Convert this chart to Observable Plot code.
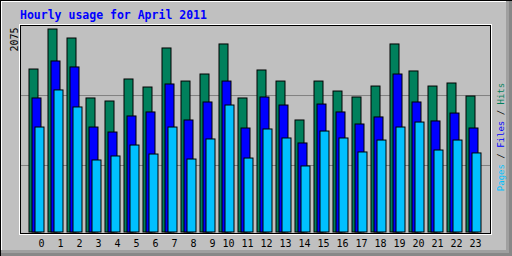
<!DOCTYPE html>
<html>
<head>
<meta charset="utf-8">
<script src="https://cdn.jsdelivr.net/npm/d3@7"></script>
<script src="https://cdn.jsdelivr.net/npm/@observablehq/plot@0.6"></script>
<style>
  html, body { margin: 0; padding: 0; background: #C0C0C0; overflow: hidden; }
</style>
</head>
<body>
<div id="chart"></div>
<script>
const title = "Hourly usage for April 2011";
const hours = [0,1,2,3,4,5,6,7,8,9,10,11,12,13,14,15,16,17,18,19,20,21,22,23];
const hits  = [1666,2075,1983,1370,1339,1564,1482,1881,1543,1615,1922,1370,1656,1543,1145,1543,1441,1380,1492,1922,1646,1492,1523,1390];
const files = [1370,1748,1687,1073,1022,1186,1227,1513,1145,1329,1543,1063,1380,1298,910,1308,1227,1104,1176,1615,1329,1135,1216,1063];
const pages = [1073,1452,1278,736,777,889,797,1073,746,951,1298,756,1053,961,675,1032,961,818,940,1073,1124,838,940,808];
const maxLabel = [2075];
const gridValues = [685, 1400];
const legendParts = [["Pages", "#00C0FF"], [" / ", "#000000"], ["Files", "#0000FF"], [" / ", "#000000"], ["Hits", "#00805C"]];

const colors = {hits: "#00805C", files: "#0000FF", pages: "#00C0FF"};
const rows = hours.map((h, i) => ({hour: h, hits: hits[i], files: files[i], pages: pages[i]}));

const slot = 19;        // px per hour slot
const barW = 9 / slot;  // bar width in hour units
const step = 3 / slot;  // offset between series
const mono = "'DejaVu Sans Mono', 'Liberation Mono', monospace";

function bars(key, k) {
  return Plot.rectY(rows, {
    x1: d => d.hour + k * step,
    x2: d => d.hour + k * step + barW,
    y: key,
    fill: colors[key],
    stroke: "#000",
    strokeWidth: 1
  });
}

const chart = Plot.plot({
  width: 512,
  height: 256,
  marginLeft: 20,
  marginTop: 25,
  marginRight: 22,
  marginBottom: 23,
  style: {background: "#C0C0C0", fontFamily: mono, overflow: "visible"},
  x: {domain: [0, 23], range: [29, 466], axis: null},
  y: {domain: [0, 2075], range: [232, 29], axis: null},
  marks: [
    Plot.ruleY(gridValues, {stroke: "#808080", strokeWidth: 1}),
    bars("hits", 0),
    bars("files", 1),
    bars("pages", 2),
    Plot.frame({stroke: "#000", strokeWidth: 1}),
    Plot.text(hours, {
      x: d => d, text: d => String(d), frameAnchor: "bottom",
      dx: 15, dy: 13.5, textAnchor: "end", lineAnchor: "bottom",
      fontSize: 10, fontFamily: mono, fill: "#000"
    }),
    Plot.text(maxLabel, {
      y: d => d, text: d => String(d), frameAnchor: "left",
      rotate: -90, textAnchor: "end", lineAnchor: "bottom",
      dx: -3, dy: -2, fontSize: 10, fontFamily: mono, fill: "#000"
    }),
    Plot.text([title], {
      text: d => d, frameAnchor: "top-left",
      dx: -0.5, dy: -7, textAnchor: "start", lineAnchor: "bottom",
      fontSize: 11.5, fontWeight: "bold", fontFamily: mono, fill: "#0000FF"
    })
  ]
});

document.getElementById("chart").appendChild(chart);

// decorative bevel borders
const svg = d3.select(chart);
const deco = svg.insert("g", ":first-child");
deco.append("rect").attr("x", 506).attr("y", 1).attr("width", 6).attr("height", 255).attr("fill", "#A0A0A0");
deco.append("rect").attr("x", 1).attr("y", 250).attr("width", 511).attr("height", 6).attr("fill", "#A0A0A0");
deco.append("rect").attr("x", 509).attr("y", 1).attr("width", 3).attr("height", 255).attr("fill", "#888888");
deco.append("rect").attr("x", 1).attr("y", 253).attr("width", 511).attr("height", 3).attr("fill", "#888888");
deco.append("rect").attr("x", 0).attr("y", 0).attr("width", 512).attr("height", 1).attr("fill", "#000");
deco.append("rect").attr("x", 0).attr("y", 0).attr("width", 1).attr("height", 256).attr("fill", "#000");
deco.append("rect").attr("x", 1).attr("y", 1).attr("width", 505).attr("height", 1).attr("fill", "#FFF");
deco.append("rect").attr("x", 1).attr("y", 1).attr("width", 1).attr("height", 249).attr("fill", "#FFF");
deco.append("rect").attr("x", 19.5).attr("y", 24.5).attr("width", 472).attr("height", 210)
  .attr("fill", "none").attr("stroke", "#FFF");

// legend on the right
const leg = svg.append("text")
  .attr("transform", "translate(503.5,137) rotate(-90)")
  .attr("font-family", mono).attr("font-size", 9)
  .style("white-space", "pre");
legendParts.forEach(([t, c]) => leg.append("tspan").attr("fill", c).text(t));
</script>
</body>
</html>
